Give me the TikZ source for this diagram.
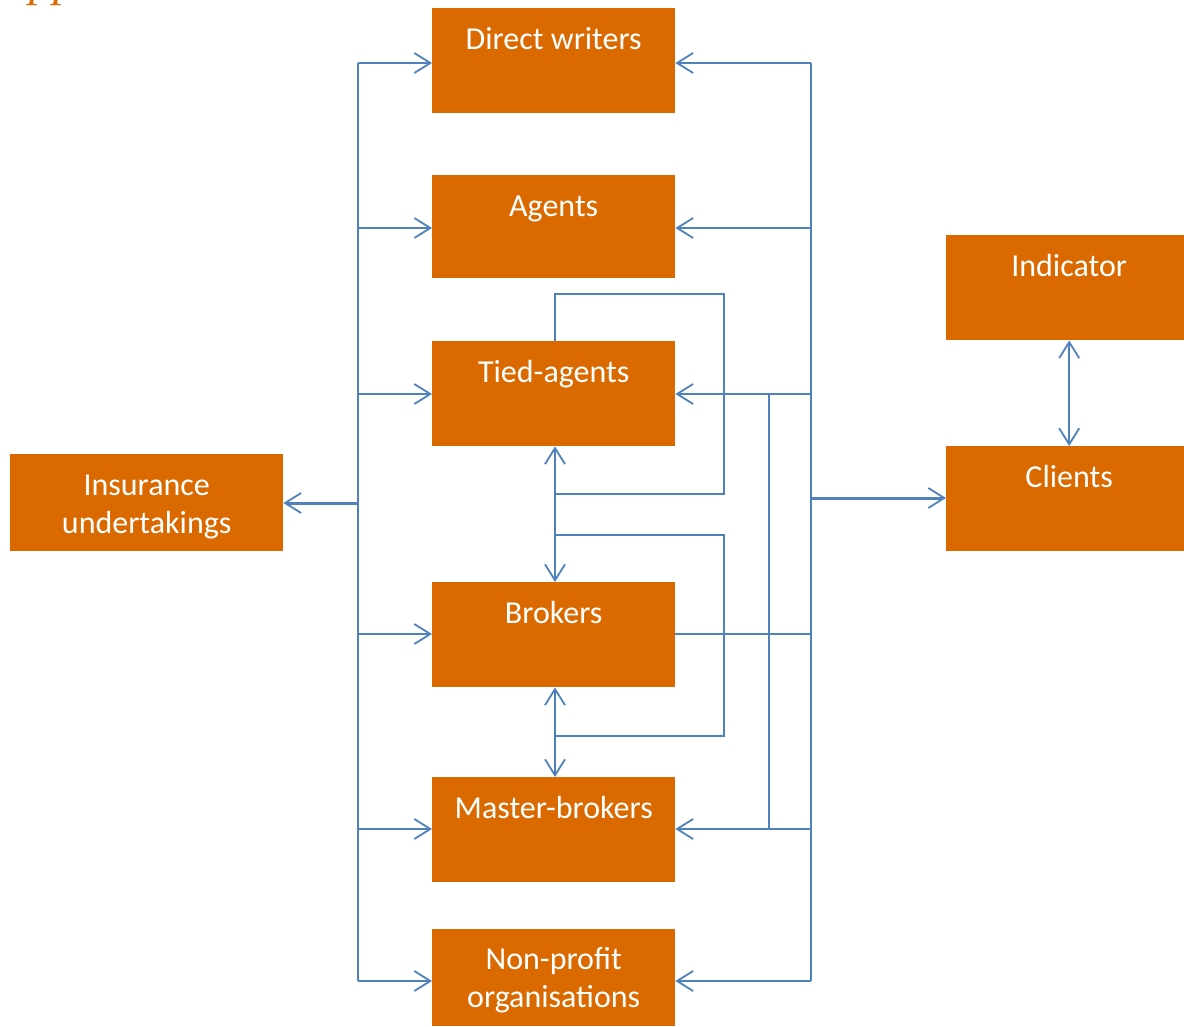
\documentclass[tikz,border=0pt]{standalone}
\usepackage{fontspec}
\setmainfont{Carlito}
\newfontfamily\headfont{Liberation Serif}
\usetikzlibrary{arrows.meta}
\definecolor{boxorange}{RGB}{218,106,0}
\definecolor{linkblue}{RGB}{79,129,189}

\begin{document}
\begin{tikzpicture}[x=1pt,y=-1pt,
  box/.style={fill=boxorange, draw=none, anchor=north west, inner sep=0pt,
    text=white, font=\fontsize{32}{38}\selectfont},
  oneline/.style={minimum width=#1, text height=41pt},
  boxtext/.style={inner sep=0pt, text=white, align=center,
    font=\fontsize{32}{38}\selectfont},
  link/.style={draw=linkblue, line width=1.8pt, line join=miter},
  heavy/.style={draw=linkblue, line width=3pt},
  tip/.style={-{Straight Barb[length=16pt,width=20pt,line width=1.8pt]}},
  tips/.style={{Straight Barb[length=16pt,width=20pt,line width=1.8pt]}-{Straight Barb[length=16pt,width=20pt,line width=1.8pt]}}
]
\useasboundingbox (0,0) rectangle (1184,1027);

% heading fragment cut off at the top edge
\begin{scope}
  \clip (0,0) rectangle (1184,1027);
  \node[anchor=base west, inner sep=0pt, text=boxorange,
    font=\headfont\itshape\fontsize{48}{56}\selectfont] (head) at (29,-4) {pp};
\end{scope}

% boxes
\node[box, oneline=243pt, minimum height=105pt, text depth=64pt] (dw) at (432,8) {Direct writers};
\node[box, oneline=243pt, minimum height=103pt, text depth=62pt] (ag) at (432,175) {Agents};
\node[box, oneline=243pt, minimum height=105pt, text depth=64pt] (ta) at (432,341) {Tied-agents};
\node[box, oneline=243pt, minimum height=105pt, text depth=64pt] (br) at (432,582) {Brokers};
\node[box, oneline=243pt, minimum height=105pt, text depth=64pt] (mb) at (432,777) {Master-brokers};
\node[box, minimum width=243pt, minimum height=97pt] (np) at (432,929) {};
\node[boxtext] (np-t) at ([yshift=-2.5pt]np.center) {Non-profit\\organisations};
\node[box, minimum width=273pt, minimum height=97pt] (iu) at (10,454) {};
\node[boxtext] (iu-t) at ([yshift=-4pt]iu.center) {Insurance\\undertakings};
\node[box, oneline=246pt, minimum height=105pt, text depth=64pt] (ind) at (946,235) {Indicator};
\node[box, oneline=246pt, minimum height=105pt, text depth=64pt] (cl) at (946,446) {Clients};

% left bus
\coordinate (L1) at (358,63);
\coordinate (L2) at (358,228);
\coordinate (L3) at (358,394);
\coordinate (L4) at (358,634);
\coordinate (L5) at (358,829);
\coordinate (L6) at (358,981);
\coordinate (Lc) at (358,503);
\draw[link] (L1) -- (L6);
\foreach \p/\b in {L1/dw, L2/ag, L3/ta, L4/br, L5/mb, L6/np}
  \draw[link, tip] (\p) -- (\p -| \b.west);
\draw[heavy, tip] (Lc) -- (Lc -| iu.east);

% right bus
\coordinate (R1) at (811,63);
\coordinate (R2) at (811,228);
\coordinate (R3) at (811,394);
\coordinate (R4) at (811,634);
\coordinate (R5) at (811,829);
\coordinate (R6) at (811,981);
\coordinate (Rc) at (811,498);
\draw[link] (R1) -- (R6);
\foreach \p/\b in {R1/dw, R2/ag, R3/ta, R5/mb, R6/np}
  \draw[link, tip] (\p) -- (\p -| \b.east);
\draw[link] (R4 -| br.east) -- (R4);
\draw[heavy, tip] (Rc) -- (Rc -| cl.west);

% inner riser between tied-agents and master-brokers
\coordinate (S1) at (769,394);
\coordinate (S2) at (769,829);
\draw[link] (S1) -- (S2);

% loop above and beside tied-agents
\coordinate (U1) at (555,294);
\coordinate (U2) at (724,294);
\coordinate (U3) at (724,494);
\coordinate (U4) at (555,494);
\draw[link] (U4 |- ta.north) -- (U1) -- (U2) -- (U3) -- (U4);
\draw[link, tips] (U4 |- ta.south) -- (U4 |- br.north);

% loop beside brokers
\coordinate (B1) at (555,535);
\coordinate (B2) at (724,535);
\coordinate (B3) at (724,736);
\coordinate (B4) at (555,736);
\draw[link] (B1) -- (B2) -- (B3) -- (B4);
\draw[link, tips] (B4 |- br.south) -- (B4 |- mb.north);

% indicator <-> clients
\draw[link, tips] (ind.south) -- (cl.north);
\end{tikzpicture}
\end{document}
